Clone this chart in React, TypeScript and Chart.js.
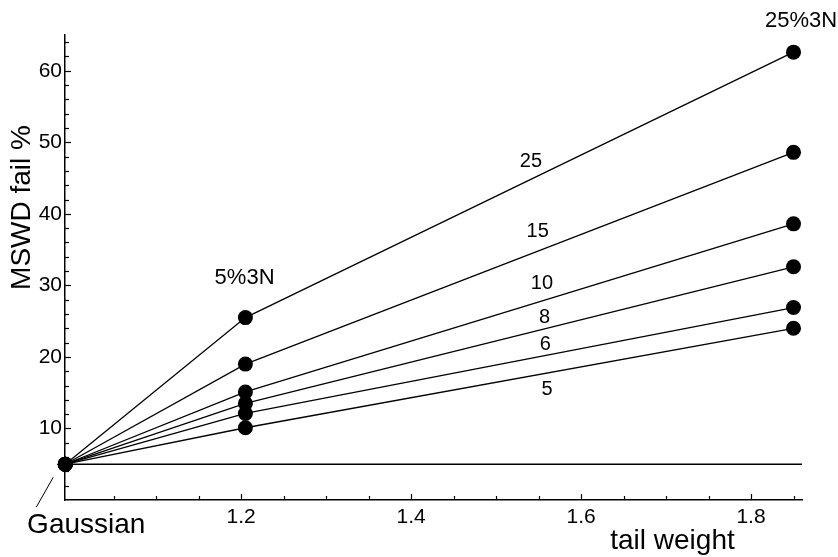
import React, { useEffect, useRef } from "react";
import { Chart, registerables } from "chart.js";

Chart.register(...registerables);

// ---- data ----
const seriesLabels = ["25", "15", "10", "8", "6", "5"];
const gaussianX = 0.993;
const gaussianY = 5;
const midX = 1.205;
const endX = 1.85;
const midValues = [25.5, 19.0, 15.1, 13.5, 12.1, 10.1];
const endValues = [62.6, 48.6, 38.6, 32.6, 26.9, 24.0];
const baselineY = 5;

const xMin = 0.9927;
const xMax = 1.86;
const yMin = 0;
const yMax = 65;

const xTicks = [1.2, 1.4, 1.6, 1.8];
const xMinorTicks = [1.05, 1.1, 1.15, 1.25, 1.3, 1.35, 1.45, 1.5, 1.55, 1.65, 1.7, 1.75, 1.85];
const yTicks = [10, 20, 30, 40, 50, 60];
const yMinorTicks = [2, 4, 6, 8, 12, 14, 16, 18, 22, 24, 26, 28, 32, 34, 36, 38, 42, 44, 46, 48, 52, 54, 56, 58, 62, 64];

// label anchor positions (data coords)
const seriesLabelX = [1.541, 1.549, 1.554, 1.557, 1.558, 1.56];
const seriesLabelY = [47.3, 37.5, 30.3, 25.55, 21.8, 15.5];
const groupLabels = ["5%3N", "25%3N"];
const groupLabelX = [1.204, 1.859];
const groupLabelY = [31.0, 67.0];

const FONT = "'Liberation Sans', Arial, Helvetica, sans-serif";

const overlayPlugin = {
  id: "overlay",
  afterDraw(chart: any) {
    const ctx = chart.ctx;
    const xs = chart.scales.x;
    const ys = chart.scales.y;
    const left = xs.left;
    const bottom = ys.bottom;
    ctx.save();
    ctx.strokeStyle = "#000";
    ctx.lineWidth = 1.2;
    const drawY = (v: number, len: number) => {
      const py = Math.round(ys.getPixelForValue(v)) + 0.5;
      ctx.beginPath();
      ctx.moveTo(left, py);
      ctx.lineTo(left + len, py);
      ctx.stroke();
    };
    yTicks.forEach((v) => drawY(v, 6));
    yMinorTicks.forEach((v) => drawY(v, 4));
    const drawX = (v: number, len: number) => {
      const px = Math.round(xs.getPixelForValue(v)) + 0.5;
      ctx.beginPath();
      ctx.moveTo(px, bottom);
      ctx.lineTo(px, bottom - len);
      ctx.stroke();
    };
    xTicks.forEach((v) => drawX(v, 6));
    xMinorTicks.forEach((v) => drawX(v, 4));

    ctx.fillStyle = "#000";
    ctx.textAlign = "center";
    ctx.textBaseline = "middle";
    ctx.font = `20px ${FONT}`;
    seriesLabels.forEach((t, i) => {
      ctx.fillText(t, xs.getPixelForValue(seriesLabelX[i]), ys.getPixelForValue(seriesLabelY[i]));
    });
    ctx.font = `22px ${FONT}`;
    groupLabels.forEach((t, i) => {
      ctx.fillText(t, xs.getPixelForValue(groupLabelX[i]), ys.getPixelForValue(groupLabelY[i]));
    });

    const gx = xs.getPixelForValue(gaussianX);
    const gy = ys.getPixelForValue(gaussianY);
    ctx.lineWidth = 1;
    ctx.beginPath();
    ctx.moveTo(gx - 12, gy + 13);
    ctx.lineTo(gx - 29, gy + 43);
    ctx.stroke();
    ctx.font = `28px ${FONT}`;
    ctx.fillText("Gaussian", gx + 21, gy + 61);

    ctx.fillText("tail weight", 672.5, 541);

    ctx.save();
    ctx.translate(22, 207.5);
    ctx.rotate(-Math.PI / 2);
    ctx.fillText("MSWD fail %", 0, 0);
    ctx.restore();

    ctx.restore();
  },
};

export default function App() {
  const ref = useRef<HTMLCanvasElement | null>(null);
  useEffect(() => {
    if (!ref.current) return;
    const lineDatasets = seriesLabels.map((lab, i) => ({
      label: lab,
      data: [
        { x: gaussianX, y: gaussianY },
        { x: midX, y: midValues[i] },
        { x: endX, y: endValues[i] },
      ],
      borderColor: "#000",
      backgroundColor: "#000",
      borderWidth: 1.3,
      pointRadius: 7.5,
      pointHoverRadius: 7.5,
      pointBackgroundColor: "#000",
      pointBorderWidth: 0,
      clip: false as any,
      tension: 0,
    }));
    const chart = new Chart(ref.current, {
      type: "line",
      data: {
        datasets: [
          {
            label: "base",
            data: [
              { x: xMin, y: baselineY },
              { x: xMax, y: baselineY },
            ],
            borderColor: "#000",
            borderWidth: 1.3,
            pointRadius: 0,
            clip: false as any,
          },
          ...lineDatasets,
        ] as any,
      },
      options: {
        responsive: false,
        animation: false,
        devicePixelRatio: 1,
        layout: { padding: { top: 35, right: 36, left: 0, bottom: 0 } },
        plugins: {
          legend: { display: false },
          tooltip: { enabled: false },
        },
        scales: {
          x: {
            type: "linear",
            min: xMin,
            max: xMax,
            grid: { display: false, drawTicks: false },
            border: { display: true, color: "#000", width: 1.5 },
            afterBuildTicks: (s: any) => {
              s.ticks = xTicks.map((v) => ({ value: v }));
            },
            afterFit: (s: any) => {
              s.height = 57;
            },
            ticks: {
              color: "#000",
              padding: 5,
              maxRotation: 0,
              autoSkip: false,
              font: { family: FONT, size: 21 },
              callback: (v: any) => Number(v).toFixed(1),
            },
          },
          y: {
            type: "linear",
            min: yMin,
            max: yMax,
            grid: { display: false, drawTicks: false },
            border: { display: true, color: "#000", width: 1.5 },
            afterBuildTicks: (s: any) => {
              s.ticks = yTicks.map((v) => ({ value: v }));
            },
            afterFit: (s: any) => {
              s.width = 65;
            },
            ticks: {
              color: "#000",
              padding: 3,
              autoSkip: false,
              font: { family: FONT, size: 21 },
              callback: (v: any) => String(v),
            },
          },
        },
      },
      plugins: [overlayPlugin],
    });
    return () => chart.destroy();
  }, []);
  return (
    <div style={{ position: "fixed", left: 0, top: 0, width: 838, height: 557, background: "#fff" }}>
      <canvas ref={ref} width={838} height={557} style={{ display: "block" }} />
    </div>
  );
}
